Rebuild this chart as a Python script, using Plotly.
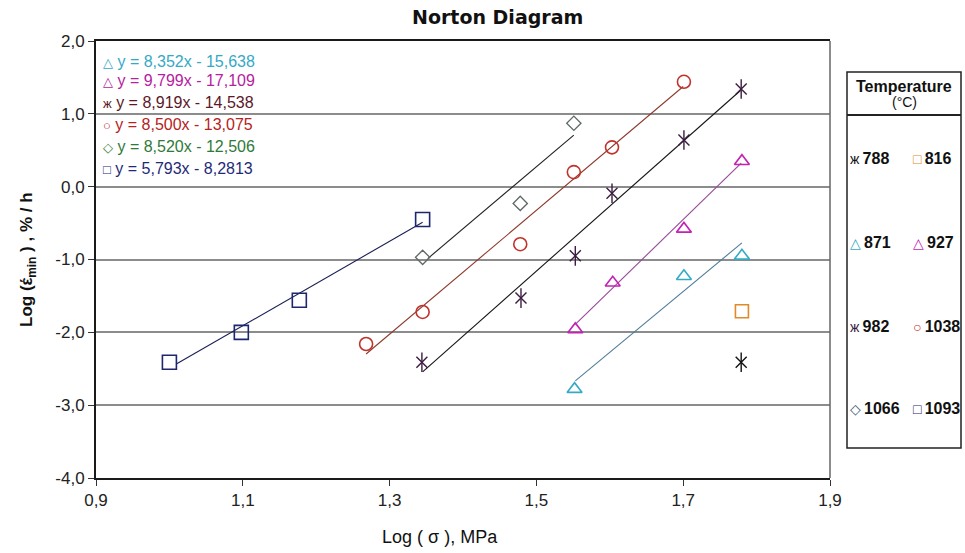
import plotly.graph_objects as go

# ---------------- data ----------------
x_1093 = [1.000, 1.098, 1.177, 1.345]
y_1093 = [-2.41, -2.00, -1.56, -0.45]
x_1066 = [1.345, 1.478, 1.551]
y_1066 = [-0.97, -0.23, 0.87]
x_1038 = [1.268, 1.345, 1.478, 1.551, 1.603, 1.701]
y_1038 = [-2.16, -1.72, -0.79, 0.20, 0.54, 1.44]
x_982 = [1.344, 1.479, 1.553, 1.603, 1.701, 1.779]
y_982 = [-2.41, -1.53, -0.95, -0.09, 0.64, 1.34]
x_927 = [1.553, 1.604, 1.701, 1.780]
y_927 = [-1.96, -1.32, -0.58, 0.35]
x_871 = [1.552, 1.701, 1.780]
y_871 = [-2.78, -1.23, -0.95]
x_816 = [1.780]
y_816 = [-1.71]
x_788 = [1.779]
y_788 = [-2.41]

# trend lines: slope, intercept, x-range drawn
fit_names = ["871", "927", "982", "1038", "1066", "1093"]
fit_slopes = [8.352, 9.799, 8.919, 8.500, 8.520, 5.793]
fit_intercepts = [-15.638, -17.109, -14.538, -13.075, -12.506, -8.2813]
fit_x0 = [1.553, 1.553, 1.345, 1.268, 1.352, 1.010]
fit_x1 = [1.780, 1.779, 1.778, 1.700, 1.551, 1.345]
eq_labels = ["y = 8,352x - 15,638", "y = 9,799x - 17,109", "y = 8,919x - 14,538",
             "y = 8,500x - 13,075", "y = 8,520x - 12,506", "y = 5,793x - 8,2813"]
eq_symbols = ["△", "△", "ж", "○", "◇", "□"]

legend_names = ["788", "816", "871", "927", "982", "1038", "1066", "1093"]
legend_symbols = ["ж", "□", "△", "△", "ж", "○", "◇", "□"]

x_tickvals = [0.9, 1.1, 1.3, 1.5, 1.7, 1.9]
x_ticktext = ["0,9", "1,1", "1,3", "1,5", "1,7", "1,9"]
y_tickvals = [-4, -3, -2, -1, 0, 1, 2]
y_ticktext = ["-4,0", "-3,0", "-2,0", "-1,0", "0,0", "1,0", "2,0"]

# ---------------- styles ----------------
C = {
    "1093": "#1f2670", "1066": "#5f6868", "1038": "#c0322c", "982": "#3c1c40",
    "927": "#c223b4", "871": "#34aac4", "816": "#e08a2a", "788": "#111111",
}
leg_col = dict(C)
leg_col["1066"] = "#3d5a70"
line_col = {"871": "#4f7d99", "927": "#96489a", "982": "#151515", "1038": "#8e3a2c",
            "1066": "#222222", "1093": "#1a1f55"}
eq_col = {"871": "#35a9c6", "927": "#b5219e", "982": "#5a1828", "1038": "#b52322",
          "1066": "#2f7a38", "1093": "#1f2a78"}

W, H = 965, 553
L, R, T, B = 96, 135, 41, 75
PW, PH = W - L - R, H - T - B


def px(x):
    return (x - L) / PW


def py(y):
    return (H - B - y) / PH


fig = go.Figure()

# trend lines
for n, m, b, a0, a1 in zip(fit_names, fit_slopes, fit_intercepts, fit_x0, fit_x1):
    fig.add_trace(go.Scatter(x=[a0, a1], y=[m * a0 + b, m * a1 + b], mode="lines",
                             line=dict(color=line_col[n], width=1.1),
                             showlegend=False, hoverinfo="skip"))


def markers(xs, ys, name, symbol, size, width=1.6):
    fig.add_trace(go.Scatter(x=xs, y=ys, mode="markers", name=name,
                             marker=dict(symbol=symbol, size=size, color=C[name],
                                         line=dict(color=C[name], width=width)),
                             showlegend=False))


markers(x_1093, y_1093, "1093", "square-open", 14)
markers(x_1066, y_1066, "1066", "diamond-open", 11, 1.3)
markers(x_1038, y_1038, "1038", "circle-open", 13)
markers(x_982, y_982, "982", "x-thin-open", 11, 1.4)
markers(x_982, y_982, "982", "line-ns-open", 14, 1.4)
markers(x_927, y_927, "927", "triangle-up-open", 13)
markers(x_871, y_871, "871", "triangle-up-open", 13)
markers(x_816, y_816, "816", "square-open", 13)
markers(x_788, y_788, "788", "x-thin-open", 11, 1.4)
markers(x_788, y_788, "788", "line-ns-open", 14, 1.4)

FONT = "Liberation Sans, Arial, DejaVu Sans"
ann = []


def note(text, x, y, size, color="#111", xanchor="center", family=FONT, angle=0):
    ann.append(dict(text=text, x=px(x), y=py(y), xref="paper", yref="paper",
                    xanchor=xanchor, yanchor="middle", showarrow=False, textangle=angle,
                    font=dict(family=family, size=size, color=color)))


# title
note("<b>Norton Diagram</b>", 497, 17, 19, family="DejaVu Sans")
# axis titles
note("Log ( σ ), MPa", 440, 537, 18)
note("<b>Log (έ<sub>min</sub> ) , % / h</b>", 28, 260, 17, angle=-90)
# equations
eq_y = [62, 80, 102, 124, 146, 168]
for n, s, t, yy in zip(fit_names, eq_symbols, eq_labels, eq_y):
    note(f"<span style='font-size:13px'>{s}</span> {t}", 101, yy, 16,
         color=eq_col[n], xanchor="left")
# legend
note("<b>Temperature</b>", 904, 86, 16)
note("(°C)", 904, 102, 14)
row_y = [158, 243, 326, 408]
col_x = [848, 911]
for i, (n, s) in enumerate(zip(legend_names, legend_symbols)):
    r, c = divmod(i, 2)
    note(f"<span style='color:{leg_col[n]};font-size:14px'>{s}</span>\u2009<b>{n}</b>",
         col_x[c], row_y[r], 16, xanchor="left")

shapes = [
    # white box behind equations (covers gridlines)
    dict(type="rect", xref="paper", yref="paper", x0=px(99), x1=px(300), y0=py(179), y1=py(50),
         fillcolor="white", line=dict(width=0), layer="between"),
    # right border of plot
    dict(type="line", xref="paper", yref="paper", x0=1, x1=1, y0=0, y1=1,
         line=dict(color="#666", width=1.5)),
    # legend box
    dict(type="rect", xref="paper", yref="paper", x0=px(847), x1=px(961), y0=py(448), y1=py(72),
         line=dict(color="#222", width=1.5), fillcolor="rgba(0,0,0,0)"),
    dict(type="line", xref="paper", yref="paper", x0=px(847), x1=px(961), y0=py(115), y1=py(115),
         line=dict(color="#222", width=2)),
]

fig.update_layout(
    width=W, height=H, margin=dict(l=L, r=R, t=T, b=B),
    paper_bgcolor="white", plot_bgcolor="white",
    showlegend=False,
    annotations=ann, shapes=shapes,
    xaxis=dict(range=[0.9, 1.9], tickvals=x_tickvals, ticktext=x_ticktext,
               showgrid=False, zeroline=False, showline=True, mirror=True,
               linecolor="#1a1a1a", linewidth=2, ticks="outside", ticklen=6,
               tickcolor="#333", tickfont=dict(family=FONT, size=17, color="#222")),
    yaxis=dict(range=[-4, 2], tickvals=y_tickvals, ticktext=y_ticktext,
               showgrid=True, gridcolor="#8c8c8c", gridwidth=1.5, zeroline=False,
               showline=True, mirror=False, linecolor="#1a1a1a", linewidth=2,
               ticks="outside", ticklen=6, tickcolor="#333",
               tickfont=dict(family=FONT, size=17, color="#222")),
)

fig.write_html("out.html")
